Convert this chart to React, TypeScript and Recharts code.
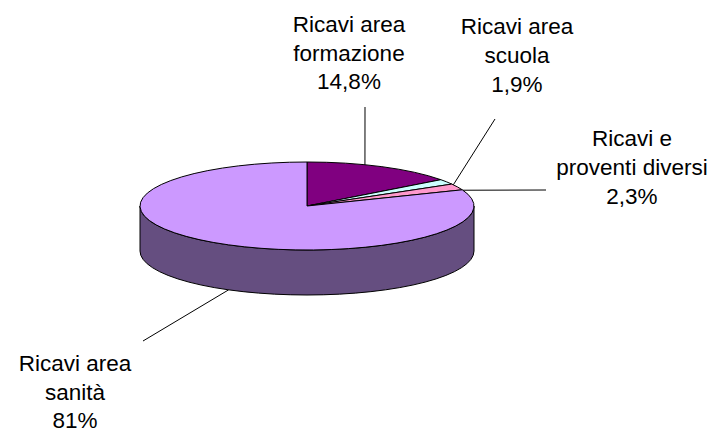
import React from "react";
import { PieChart, Pie } from "recharts";

// Share of revenue per area, clockwise from twelve o'clock.
const categories = ["Ricavi area formazione", "Ricavi area scuola", "Ricavi e proventi diversi", "Ricavi area sanità"];
const shares = [14.8, 1.9, 2.3, 81];
const shareLabels = ["14,8%", "1,9%", "2,3%", "81%"];
const topColors = ["#800080", "#CCFFFF", "#FF99CC", "#CC99FF"];
const wallColors = ["#400040", "#668080", "#804D66", "#654E80"];

const rows = categories.map((name, i) => ({ name, value: shares[i], label: shareLabels[i] }));
const topRows = rows.map((r, i) => ({ ...r, fill: topColors[i] }));
const wallRows = rows.map((r, i) => ({ ...r, fill: wallColors[i] }));

const CX = 307;
const CY = 206;
const RADIUS = 167;
const TILT = 44 / 167;
const DEPTH = 45;
const RAD = Math.PI / 180;

const px = (cx: number, r: number, deg: number) => cx + r * Math.cos(deg * RAD);
const py = (cy: number, r: number, deg: number) => cy - r * TILT * Math.sin(deg * RAD);

// Flattened sector: the pie's angles stay, the radius shrinks vertically.
function TopSlice(p: any) {
  const { cx, cy, outerRadius: r, startAngle: a, endAngle: b, fill } = p;
  const large = Math.abs(b - a) > 180 ? 1 : 0;
  const d = `M${cx},${cy}L${px(cx, r, a)},${py(cy, r, a)}A${r},${r * TILT} 0 ${large} 1 ${px(cx, r, b)},${py(cy, r, b)}Z`;
  return <path d={d} fill={fill} stroke="#000" strokeWidth={1} strokeLinejoin="round" />;
}

// Side of the disc: only the part of a slice facing the viewer is drawn.
function WallSlice(p: any) {
  const { cx, cy, outerRadius: r, startAngle, endAngle, fill } = p;
  const a = Math.min(startAngle, 0);
  const b = Math.max(endAngle, -180);
  if (a <= b) return <g />;
  const rr = r * TILT;
  const d =
    `M${px(cx, r, a)},${py(cy, r, a)}A${r},${rr} 0 0 1 ${px(cx, r, b)},${py(cy, r, b)}` +
    `L${px(cx, r, b)},${py(cy, r, b) + DEPTH}A${r},${rr} 0 0 0 ${px(cx, r, a)},${py(cy, r, a) + DEPTH}Z`;
  return <path d={d} fill={fill} stroke="#000" strokeWidth={1} strokeLinejoin="round" />;
}

// Where each callout sits: text centre, first baseline, line pitch, rim angle and far end of its leader.
const callouts = [
  { x: 349, y: 32, pitch: 28.5, rim: 69.7, drop: 0, ex: 365, ey: 107, lines: ["Ricavi area", "formazione"] },
  { x: 517, y: 34, pitch: 29, rim: 28.8, drop: 0, ex: 495, ey: 119, lines: ["Ricavi area", "scuola"] },
  { x: 632, y: 146, pitch: 29, rim: 21, drop: 0, ex: 546, ey: 190, lines: ["Ricavi e", "proventi diversi"] },
  { x: 75, y: 371, pitch: 28.5, rim: -118, drop: DEPTH, ex: 143, ey: 341, lines: ["Ricavi area", "sanità"] },
];

function Callout(p: any) {
  const c = callouts[p.index];
  const { cx, cy, outerRadius: r } = p;
  const lines = [...c.lines, shareLabels[p.index]];
  return (
    <g>
      <line x1={px(cx, r, c.rim)} y1={py(cy, r, c.rim) + c.drop} x2={c.ex} y2={c.ey} stroke="#000" strokeWidth={1} />
      <text textAnchor="middle" fontFamily="'Liberation Sans', Arial, sans-serif" fontSize={22.5} fill="#000">
        {lines.map((t, i) => (
          <tspan key={i} x={c.x} y={c.y + i * c.pitch}>{t}</tspan>
        ))}
      </text>
    </g>
  );
}

export default function App() {
  return (
    <div style={{ position: "absolute", left: 0, top: 0, width: 708, height: 428, overflow: "hidden", background: "#fff" }}>
      <PieChart width={708} height={428} margin={{ top: 0, right: 0, bottom: 0, left: 0 }}>
        <Pie
          data={wallRows}
          dataKey="value"
          cx={CX}
          cy={CY}
          innerRadius={0}
          outerRadius={RADIUS}
          startAngle={90}
          endAngle={-270}
          shape={WallSlice}
          isAnimationActive={false}
          label={false}
          labelLine={false}
        />
        <Pie
          data={topRows}
          dataKey="value"
          cx={CX}
          cy={CY}
          innerRadius={0}
          outerRadius={RADIUS}
          startAngle={90}
          endAngle={-270}
          shape={TopSlice}
          isAnimationActive={false}
          label={Callout}
          labelLine={false}
        />
      </PieChart>
    </div>
  );
}
